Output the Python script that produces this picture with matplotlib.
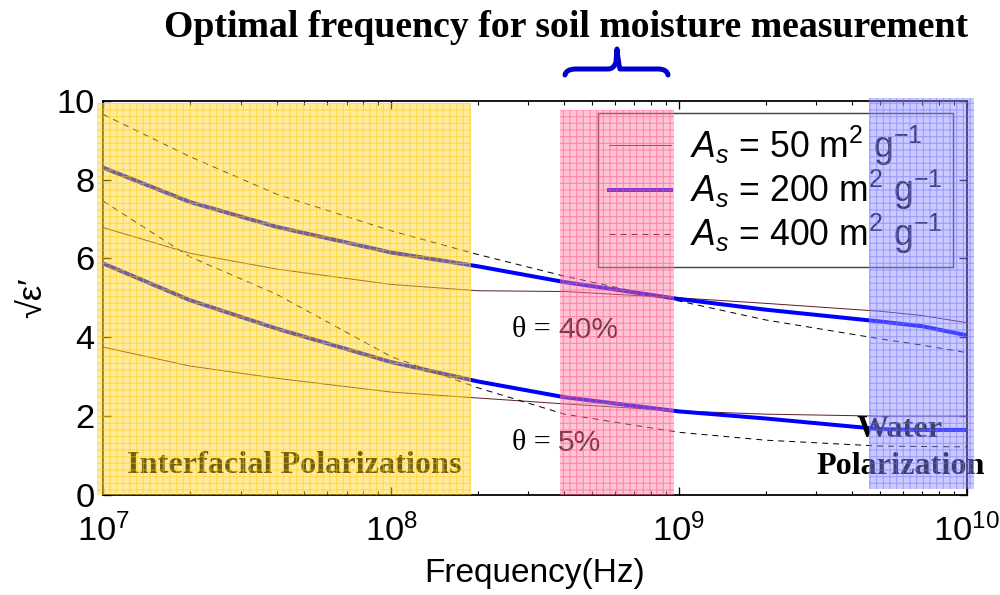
import matplotlib
matplotlib.use("Agg")
import matplotlib.pyplot as plt
from matplotlib.patches import Rectangle, PathPatch
from matplotlib.path import Path
from matplotlib.lines import Line2D

plt.rcParams['font.family'] = ['Liberation Sans', 'DejaVu Sans']
plt.rcParams['mathtext.fontset'] = 'custom'
plt.rcParams['mathtext.rm'] = 'Liberation Sans'
plt.rcParams['mathtext.it'] = 'Liberation Sans:italic'
plt.rcParams['hatch.linewidth'] = 1.0

# frequency grid (Hz)
freq = [1e7, 2e7, 4e7, 1e8, 2e8, 4e8, 1e9, 2e9, 5e9, 7e9, 1e10]

# theta = 40 %
as50_40 = [6.78, 6.13, 5.73, 5.34, 5.18, 5.16, 5.00, 4.86, 4.66, 4.55, 4.37]
as200_40 = [8.30, 7.43, 6.80, 6.15, 5.80, 5.40, 4.97, 4.70, 4.40, 4.28, 4.05]
as400_40 = [9.65, 8.58, 7.63, 6.70, 6.10, 5.55, 4.92, 4.44, 3.96, 3.80, 3.61]

# theta = 5 %
as50_5 = [3.75, 3.27, 2.96, 2.61, 2.46, 2.31, 2.13, 2.05, 2.00, 2.00, 2.00]
as200_5 = [5.87, 4.94, 4.22, 3.37, 2.88, 2.48, 2.12, 1.94, 1.67, 1.65, 1.65]
as400_5 = [7.45, 6.04, 5.09, 3.51, 2.72, 2.05, 1.59, 1.39, 1.24, 1.23, 1.22]

# shaded frequency bands (Hz)
interfacial_band = (9.53e6, 1.9e8)
optimal_band = (3.85e8, 9.6e8)
water_band = (4.56e9, 1.064e10)

legend_labels = [r'$A_s$ = 50 m$^2$ g$^{-1}$',
                 r'$A_s$ = 200 m$^2$ g$^{-1}$',
                 r'$A_s$ = 400 m$^2$ g$^{-1}$']

BROWN = '#5E2222'
BLUE = '#0000FF'

fig = plt.figure(figsize=(12.5, 7.4375), dpi=80)
ax = fig.add_axes([0.1033, 0.1681, 0.8634, 0.6627])

ax.plot(freq, as50_40, color=BROWN, lw=0.9)
ax.plot(freq, as200_40, color=BLUE, lw=3.6)
ax.plot(freq, as400_40, color='black', lw=0.9, dashes=(6, 5))
ax.plot(freq, as50_5, color=BROWN, lw=0.9)
ax.plot(freq, as200_5, color=BLUE, lw=3.6)
ax.plot(freq, as400_5, color='black', lw=0.9, dashes=(6, 5))

ax.set_xscale('log')
ax.set_xlim(1e7, 1e10)
ax.set_ylim(0, 10)
ax.set_yticks([0, 2, 4, 6, 8, 10])

ax.tick_params(which='both', direction='in', top=True, right=True,
               labelsize=31)
ax.tick_params(which='major', length=7, width=1.2, pad=8)
ax.tick_params(axis='x', which='major', pad=17)
ax.tick_params(which='minor', length=4, width=1.0)
for s in ax.spines.values():
    s.set_linewidth(1.6)

ax.set_xlabel('Frequency(Hz)', fontsize=30, labelpad=9)
ax.set_ylabel('\u221a\u03b5\u2032', fontsize=31, labelpad=6)

# annotations
serif = ['Liberation Serif', 'DejaVu Serif']
ax.text(3.8e8, 4.18, '\u03b8 = ', family=serif, fontsize=27,
        ha='right', va='center')
ax.text(3.8e8, 4.18, '40%', fontsize=27, ha='left', va='center')
ax.text(3.8e8, 1.32, '\u03b8 = ', family=serif, fontsize=27,
        ha='right', va='center')
ax.text(3.8e8, 1.32, '5%', fontsize=27, ha='left', va='center')

ax.text(4.6e7, 0.76, 'Interfacial Polarizations', family=serif,
        fontweight='bold', fontsize=29, ha='center', va='center')
ax.text(5.85e9, 1.65, 'Water', family=serif, fontweight='bold',
        fontsize=29, ha='center', va='center')
ax.text(5.9e9, 0.71, 'Polarization', family=serif, fontweight='bold',
        fontsize=29, ha='center', va='center', clip_on=False)

handles = [Line2D([], [], color=BROWN, lw=0.9),
           Line2D([], [], color=BLUE, lw=3.6),
           Line2D([], [], color='black', lw=0.9, dashes=(6, 5))]
leg = ax.legend(handles, legend_labels, loc='upper left',
                bbox_to_anchor=(0.573, 0.969), borderaxespad=0,
                fontsize=32, fancybox=False, framealpha=1,
                edgecolor='#444444', handlelength=1.75, handletextpad=0.55,
                labelspacing=0.0, borderpad=0.3)
leg.get_frame().set_linewidth(1.3)

# translucent hatched bands drawn on top of everything
bands = [(interfacial_band, 0.0, 9.93, '#FFD428', '#FFC800'),
         (optimal_band, 0.0, 9.76, '#FF7FA6', '#FF4D85'),
         (water_band, 0.15, 10.06, '#8C8CFF', '#7070FF')]
for (x0, x1), y0, y1, face, hatch_c in bands:
    fill = Rectangle((x0, y0), x1 - x0, y1 - y0, facecolor=face,
                     edgecolor='none', alpha=0.45, zorder=10, clip_on=False)
    ax.add_patch(fill)
    grid = Rectangle((x0, y0), x1 - x0, y1 - y0, facecolor='none',
                     edgecolor=hatch_c, hatch='++', lw=0, alpha=0.5,
                     zorder=11, clip_on=False)
    ax.add_patch(grid)

# title and brace above the optimal band
fig.text(0.5665, 0.953, 'Optimal frequency for soil moisture measurement',
         family=serif, fontweight='bold', fontsize=34, ha='center',
         va='center')

W, H = 1000.0, 595.0
pts_px = [(565, 75), (566, 69), (576, 69), (608, 69), (614, 69),
          (616, 62), (617, 49), (618, 62), (620, 69), (626, 69),
          (658, 69), (667, 69), (668, 75)]
codes = [Path.MOVETO, Path.CURVE3, Path.CURVE3, Path.LINETO,
         Path.CURVE3, Path.CURVE3, Path.LINETO, Path.CURVE3, Path.CURVE3,
         Path.LINETO, Path.LINETO, Path.CURVE3, Path.CURVE3]
verts = [(x / W, 1 - y / H) for x, y in pts_px]
brace = PathPatch(Path(verts, codes), transform=fig.transFigure,
                  facecolor='none', edgecolor='#0000CC', lw=4.5,
                  capstyle='round', joinstyle='round')
fig.patches.append(brace)

fig.savefig('out.png', dpi=80)
